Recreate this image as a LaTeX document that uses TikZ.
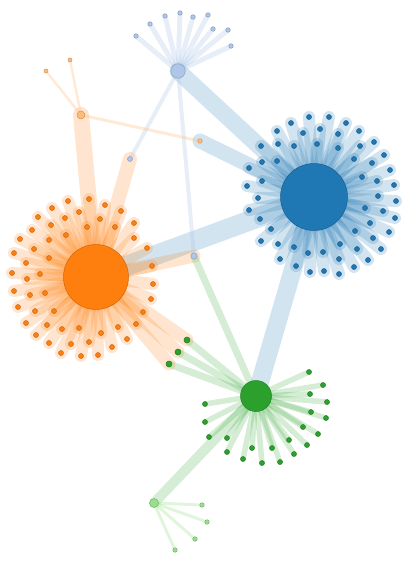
\documentclass[tikz,border=0pt]{standalone}
\usetikzlibrary{backgrounds}
\definecolor{hubblue}{HTML}{1F77B4}
\definecolor{paleblue}{HTML}{AEC7E8}
\definecolor{huborange}{HTML}{FF7F0E}
\definecolor{paleorange}{HTML}{FFBB78}
\definecolor{hubgreen}{HTML}{2CA02C}
\definecolor{palegreen}{HTML}{98DF8A}

\begin{document}
\begin{tikzpicture}[x=1pt, y=-1pt,
  dot/.style={circle, inner sep=0pt, line width=0.5pt},
  hub/.style={dot, draw=#1!80!black, fill=#1},
  leaf/.style={dot, draw=#1!80!black, fill=#1, minimum size=5pt},
  link/.style={line cap=round, draw=#1, draw opacity=0.2},
  palelink/.style={line cap=round, draw=#1, draw opacity=0.3}]

  \useasboundingbox (0,0) rectangle (408,568);

  \node[hub=hubblue, minimum size=67pt] (bh) at (314,197) {};
  \node[hub=huborange, minimum size=65pt] (oh) at (96,277) {};
  \node[hub=hubgreen, minimum size=31pt] (gh) at (256,396) {};
  \node[hub=paleblue, minimum size=14.5pt] (lbh) at (178,71) {};
  \node[hub=palegreen, minimum size=9pt] (lgh) at (154,503) {};
  \node[hub=paleorange, minimum size=8pt] (loh) at (81,115) {};

  \node[leaf=paleblue] (pb1) at (130,159) {};
  \node[leaf=paleblue, minimum size=6.5pt] (pb2) at (194,256) {};
  \node[leaf=paleorange, minimum size=4.5pt] (po) at (200,141) {};

  \begin{scope}[on background layer]
    \draw[link=hubblue, line width=17pt] (lbh.center) -- (bh.center);
    \draw[link=hubblue, line width=15pt] (po.center) -- (bh.center);
    \draw[link=hubblue, line width=20pt] (oh.center) -- (bh.center);
    \draw[link=hubblue, line width=18pt] (bh.center) -- (gh.center);
    \draw[link=huborange, line width=16pt] (loh.center) -- (oh.center);
    \draw[link=huborange, line width=14pt] (pb1.center) -- (oh.center);
    \draw[link=huborange, line width=13pt] (pb2.center) -- (oh.center);
    \draw[link=hubgreen, line width=7pt] (pb2.center) -- (gh.center);
    \draw[link=hubgreen, line width=10pt] (gh.center) -- (lgh.center);
    \draw[palelink=paleblue, line width=4pt] (lbh.center) -- (pb1.center);
    \draw[palelink=paleblue, line width=4pt] (lbh.center) -- (pb2.center);
    \draw[palelink=paleorange, line width=3pt] (loh.center) -- (po.center);
  \end{scope}

  \foreach \x/\y [count=\i] in {309/117, 329/117, 291/123, 346/123, 277/131,
      303/133, 320/129, 338/134, 359/131, 261/146, 278/144, 294/146, 317/144,
      338/148, 360/146, 374/142, 384/155, 262/162, 277/161, 354/159, 372/163,
      390/170, 249/168, 362/177, 377/181, 394/185, 262/181, 247/186, 378/196,
      396/201, 258/198, 249/210, 365/208, 383/211, 395/218, 260/219, 370/223,
      389/232, 271/229, 355/231, 373/238, 261/241, 278/244, 294/247, 340/244,
      357/249, 381/249, 308/253, 323/252, 339/259, 368/260, 280/259, 296/266,
      354/267, 310/272, 324/271, 339/274}{
    \node[leaf=hubblue] (b\i) at (\x,\y) {};
    \begin{scope}[on background layer]
      \draw[link=hubblue, line width=12pt] (bh.center) -- (b\i.center);
    \end{scope}
  }

  \foreach \x/\y [count=\i] in {68/201, 89/199, 105/205, 52/208, 79/212,
      121/211, 38/217, 65/218, 100/219, 134/223, 51/225, 87/227, 115/227,
      32/230, 66/235, 134/238, 20/239, 49/240, 147/248, 34/249, 14/253,
      49/258, 26/263, 152/266, 40/274, 12/273, 27/279, 153/284, 14/291,
      45/293, 30/295, 151/299, 18/307, 54/311, 35/311, 143/312, 26/323,
      47/325, 136/324, 62/329, 79/328, 118/327, 36/335, 101/333, 127/339,
      49/343, 71/344, 89/342, 112/347, 61/353, 81/356, 98/355}{
    \node[leaf=huborange] (o\i) at (\x,\y) {};
    \begin{scope}[on background layer]
      \draw[link=huborange, line width=12pt] (oh.center) -- (o\i.center);
    \end{scope}
  }

  \foreach \x/\y [count=\i] in {309/372, 323/385, 310/394, 327/402, 311/412,
      326/418, 318/434, 303/427, 307/445, 289/440, 294/454, 280/462, 272/448,
      262/463, 252/448, 243/459, 227/452, 227/438, 209/437, 205/422, 205/404}{
    \node[leaf=hubgreen] (g\i) at (\x,\y) {};
    \begin{scope}[on background layer]
      \draw[link=hubgreen, line width=5.5pt] (gh.center) -- (g\i.center);
    \end{scope}
  }

  \foreach \x/\y [count=\i] in {187/340, 178/352, 169/364}{
    \node[leaf=hubgreen, minimum size=6pt] (og\i) at (\x,\y) {};
    \begin{scope}[on background layer]
      \draw[link=huborange, line width=13pt] (oh.center) -- (og\i.center);
      \draw[link=hubgreen, line width=7pt] (gh.center) -- (og\i.center);
    \end{scope}
  }

  \foreach \x/\y [count=\i] in {136/36, 150/24, 165/16, 180/13, 193/17,
      208/15, 213/29, 228/30, 231/46}{
    \node[leaf=paleblue, minimum size=4.5pt] (lb\i) at (\x,\y) {};
    \begin{scope}[on background layer]
      \draw[palelink=paleblue, line width=5pt] (lbh.center) -- (lb\i.center);
    \end{scope}
  }

  \foreach \x/\y [count=\i] in {46/71, 70/60}{
    \node[leaf=paleorange, minimum size=4pt] (lo\i) at (\x,\y) {};
    \begin{scope}[on background layer]
      \draw[palelink=paleorange, line width=2.5pt] (loh.center) -- (lo\i.center);
    \end{scope}
  }

  \foreach \x/\y [count=\i] in {202/505, 207/522, 195/539, 175/550}{
    \node[leaf=palegreen, minimum size=4.5pt] (lg\i) at (\x,\y) {};
    \begin{scope}[on background layer]
      \draw[palelink=palegreen, line width=3pt] (lgh.center) -- (lg\i.center);
    \end{scope}
  }
\end{tikzpicture}
\end{document}
